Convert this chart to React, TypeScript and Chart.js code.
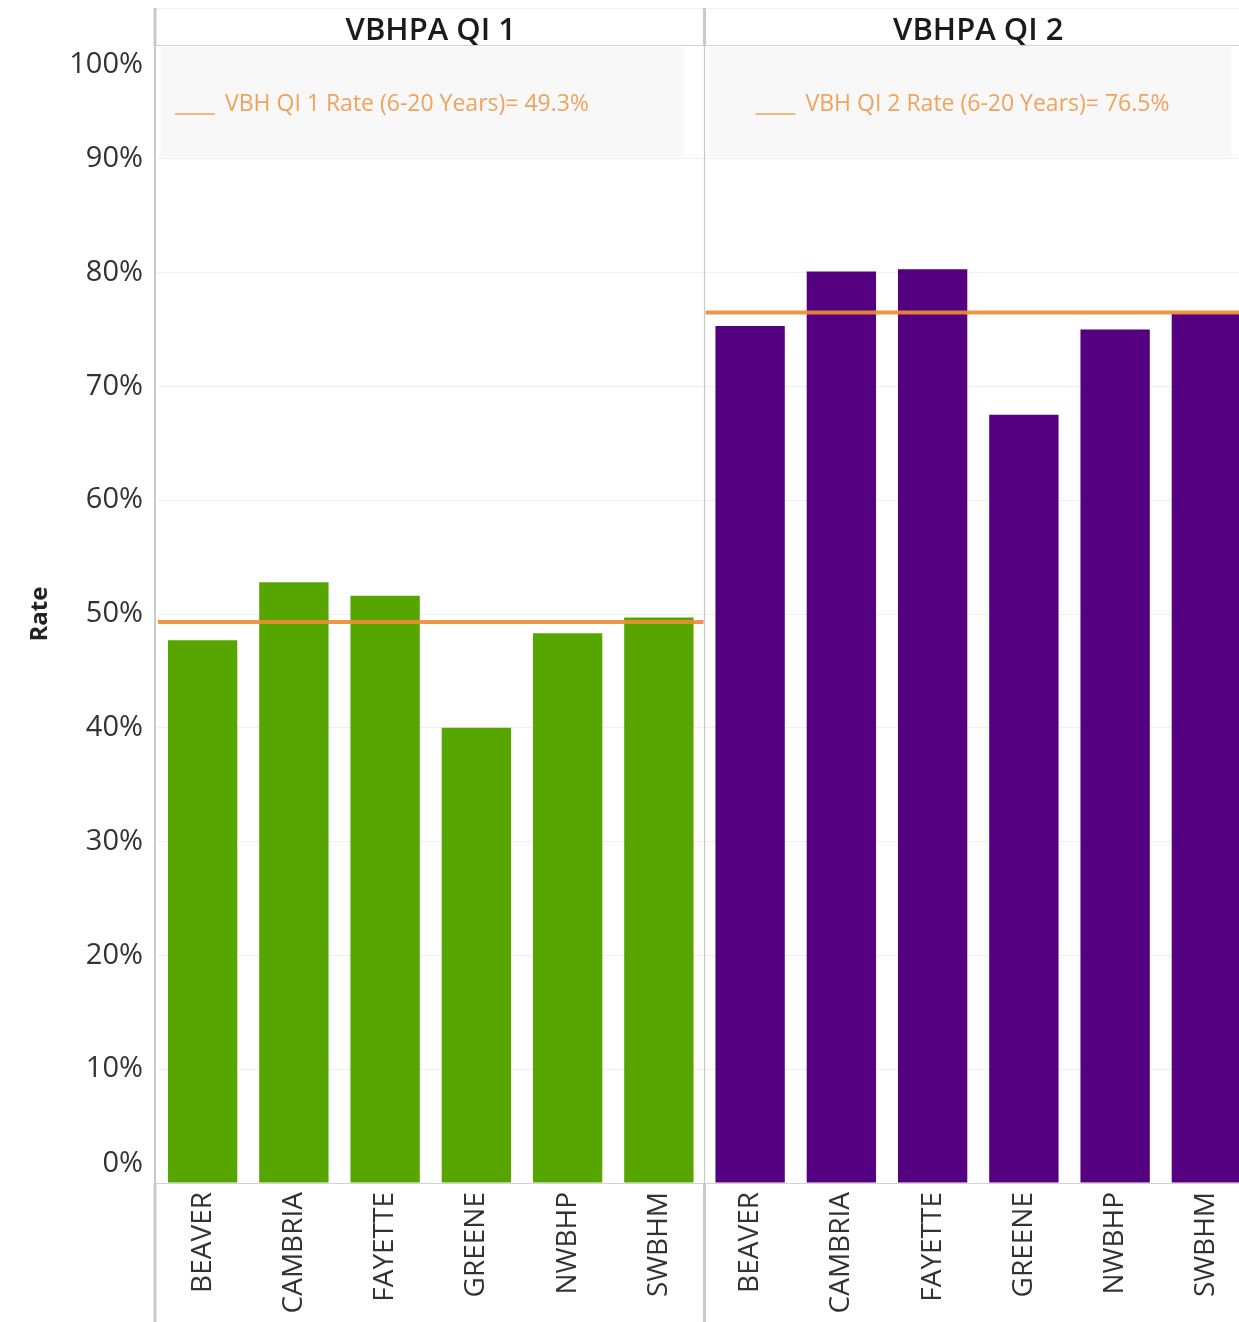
import React, { useEffect, useRef } from 'react';
import { Chart, registerables } from 'chart.js';

Chart.register(...registerables);

// ---- data ----
const counties = ['BEAVER', 'CAMBRIA', 'FAYETTE', 'GREENE', 'NWBHP', 'SWBHM'];
const measures = ['VBHPA QI 1', 'VBHPA QI 2'];
const qi1Rates = [47.7, 52.8, 51.6, 40.0, 48.3, 49.7];
const qi2Rates = [75.3, 80.1, 80.3, 67.5, 75.0, 76.4];
const benchmarkNames = ['VBH QI 1 Rate (6-20 Years)', 'VBH QI 2 Rate (6-20 Years)'];
const benchmarkRates = [49.3, 76.5];
const axisTitle = 'Rate';

// ---- look ----
const FONT = '"Open Sans", "Noto Sans", "DejaVu Sans", sans-serif';
const BAR_COLORS = ['#57a600', '#540080'];
const BENCH_COLOR = 'rgba(236,141,52,0.92)';
const BENCH_TEXT = '#f0a35c';
const FRAME = '#c9c9c9';
const VIEW_W = 1239;
const VIEW_H = 1322;
const CANVAS_W = 1252;
const LEGEND_X = [18, 51];

export default function App() {
  const canvasRef = useRef<HTMLCanvasElement | null>(null);

  useEffect(() => {
    const canvas = canvasRef.current;
    if (!canvas) return;
    const n = counties.length;
    const labels = [...counties, ...counties];
    const empty = counties.map(() => null);

    const panelBounds = (chart: any) => {
      const x = chart.scales.x;
      const band = x.getPixelForValue(1) - x.getPixelForValue(0);
      return measures.map((_, i) => ({
        left: x.getPixelForValue(i * n) - band / 2,
        right: x.getPixelForValue(i * n + n - 1) + band / 2,
      }));
    };

    const panelsPlugin = {
      id: 'panels',
      beforeDatasetsDraw(chart: any) {
        const { ctx, chartArea: a } = chart;
        const panels = panelBounds(chart);
        ctx.save();
        panels.forEach((p: any, i: number) => {
          // caption box for the benchmark
          ctx.fillStyle = '#f8f8f8';
          ctx.fillRect(p.left + 4, a.top + 2, p.right - p.left - 25, 110);
          const x0 = p.left + LEGEND_X[i];
          ctx.strokeStyle = BENCH_TEXT;
          ctx.lineWidth = 1.5;
          ctx.beginPath();
          ctx.moveTo(x0, a.top + 69);
          ctx.lineTo(x0 + 40, a.top + 69);
          ctx.stroke();
          ctx.fillStyle = BENCH_TEXT;
          ctx.font = `400 23px ${FONT}`;
          ctx.textAlign = 'left';
          ctx.textBaseline = 'middle';
          ctx.fillText(`${benchmarkNames[i]}= ${benchmarkRates[i].toFixed(1)}%`, x0 + 50, a.top + 59);
        });
        ctx.restore();
      },
      afterDatasetsDraw(chart: any) {
        const { ctx } = chart;
        const y = chart.scales.y;
        const panels = panelBounds(chart);
        ctx.save();
        ctx.strokeStyle = BENCH_COLOR;
        ctx.lineWidth = 4;
        panels.forEach((p: any, i: number) => {
          const py = y.getPixelForValue(benchmarkRates[i]);
          ctx.beginPath();
          ctx.moveTo(p.left + 1, py);
          ctx.lineTo(p.right - 1, py);
          ctx.stroke();
        });
        ctx.restore();
      },
      afterDraw(chart: any) {
        const { ctx, chartArea: a, width } = chart;
        const y = chart.scales.y;
        const panels = panelBounds(chart);
        const dividers = [a.left - 2, (panels[0].right + panels[1].left) / 2];
        ctx.save();
        // horizontal rules
        ctx.strokeStyle = '#d2d2d2';
        ctx.lineWidth = 1;
        [a.top, a.bottom].forEach((yy: number) => {
          ctx.beginPath();
          ctx.moveTo(dividers[0], yy + 0.5);
          ctx.lineTo(width, yy + 0.5);
          ctx.stroke();
        });
        ctx.strokeStyle = '#efefef';
        ctx.beginPath();
        ctx.moveTo(dividers[0], 8.5);
        ctx.lineTo(width, 8.5);
        ctx.stroke();
        // vertical pane separators
        ctx.strokeStyle = FRAME;
        dividers.forEach((dx: number, i: number) => {
          ctx.lineWidth = 3;
          ctx.beginPath();
          ctx.moveTo(dx, 8);
          ctx.lineTo(dx, a.top);
          ctx.moveTo(dx, a.bottom);
          ctx.lineTo(dx, chart.height);
          ctx.stroke();
          ctx.lineWidth = i === 0 ? 2 : 1.2;
          ctx.beginPath();
          ctx.moveTo(dx, a.top);
          ctx.lineTo(dx, a.bottom);
          ctx.stroke();
        });
        // pane headers
        ctx.fillStyle = '#1b1b1b';
        ctx.font = `600 31px ${FONT}`;
        ctx.textAlign = 'center';
        ctx.textBaseline = 'middle';
        panels.forEach((p: any, i: number) => {
          ctx.fillText(measures[i], (p.left + p.right) / 2, (8 + a.top) / 2 + 5);
        });
        // value axis labels, kept inside the pane at both ends
        ctx.fillStyle = '#333333';
        ctx.font = `400 29px ${FONT}`;
        ctx.textAlign = 'right';
        y.ticks.forEach((t: any) => {
          const py = Math.min(Math.max(y.getPixelForValue(t.value), a.top + 20), a.bottom - 19);
          ctx.fillText(`${t.value}%`, a.left - 14, py);
        });
        // axis title
        ctx.translate(40, (a.top + a.bottom) / 2);
        ctx.rotate(-Math.PI / 2);
        ctx.textAlign = 'center';
        ctx.fillStyle = '#222222';
        ctx.font = `700 24px ${FONT}`;
        ctx.fillText(axisTitle, 0, 0);
        ctx.restore();
      },
    };

    const chart = new Chart(canvas, {
      type: 'bar',
      data: {
        labels,
        datasets: [
          {
            label: measures[0],
            data: [...qi1Rates, ...empty],
            backgroundColor: BAR_COLORS[0],
          },
          {
            label: measures[1],
            data: [...empty, ...qi2Rates],
            backgroundColor: BAR_COLORS[1],
          },
        ],
      },
      options: {
        responsive: false,
        animation: false,
        devicePixelRatio: 1,
        layout: { padding: { top: 45, left: 0, right: 0, bottom: 0 } },
        datasets: {
          bar: { grouped: false, barPercentage: 0.76, categoryPercentage: 1, skipNull: true },
        },
        plugins: { legend: { display: false }, tooltip: { enabled: false } },
        scales: {
          x: {
            type: 'category',
            grid: { display: false, drawTicks: false },
            border: { display: false },
            ticks: {
              autoSkip: false,
              maxRotation: 90,
              minRotation: 90,
              padding: 9,
              color: '#333333',
              font: { family: FONT, size: 28 },
            },
            afterFit: (s: any) => {
              s.height = 139;
            },
          },
          y: {
            min: 0,
            max: 100,
            grid: { color: '#efefef', lineWidth: 1, drawTicks: false },
            border: { display: false },
            ticks: { stepSize: 10, display: false },
            afterFit: (s: any) => {
              s.width = 157;
            },
          },
        },
      },
      plugins: [panelsPlugin],
    } as any);

    return () => chart.destroy();
  }, []);

  return (
    <div
      style={{
        position: 'absolute',
        left: 0,
        top: 0,
        width: VIEW_W,
        height: VIEW_H,
        overflow: 'hidden',
        background: '#ffffff',
      }}
    >
      <canvas
        ref={canvasRef}
        width={CANVAS_W}
        height={VIEW_H}
        style={{ display: 'block', width: CANVAS_W, height: VIEW_H }}
      />
    </div>
  );
}
